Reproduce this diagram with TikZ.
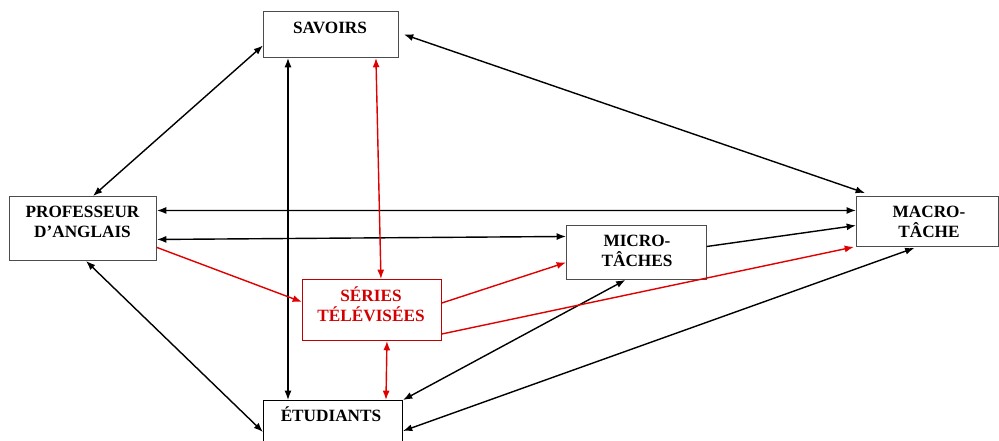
\documentclass[tikz,border=0pt]{standalone}
\usepackage{fontspec}
\setmainfont{Liberation Serif}
\usetikzlibrary{arrows.meta,calc,positioning}
\definecolor{serred}{RGB}{192,0,0}
\definecolor{sertext}{RGB}{210,0,0}
\definecolor{linkred}{RGB}{225,0,0}
\tikzset{
  box/.style    = {draw=black!70, line width=0.8pt, fill=white, anchor=north west,
                   inner sep=0pt},
  lbl/.style    = {font=\bfseries\fontsize{14.7}{17.5}\selectfont, align=center, inner sep=0pt},
  link/.style   = {{Latex[length=2.8mm,width=2.1mm]}-{Latex[length=2.8mm,width=2.1mm]},
                   line width=1.2pt},
  tolink/.style = {-{Latex[length=2.8mm,width=2.1mm]}, line width=1.2pt},
}

\begin{document}
\begin{tikzpicture}[x=0.3mm,y=-0.3mm]
  \useasboundingbox (0,0) rectangle (999,441);
  % boxes
  \node[box, minimum width=40.5mm, minimum height=13.8mm] (sav) at (263,11) {};
  \node[box, minimum width=44.1mm, minimum height=19.2mm] (prof) at (9,196) {};
  \node[box, draw=serred, minimum width=41.7mm, minimum height=18.3mm] (ser) at (302,279) {};
  \node[box, minimum width=42mm, minimum height=16.2mm] (mic) at (566,225) {};
  \node[box, minimum width=42.6mm, minimum height=15mm] (mac) at (856,196) {};
  \node[box, draw=black, minimum width=41.7mm, minimum height=13.5mm] (etu) at (263,400) {};
  % labels
  \node[lbl] (savT) at (330,28) {SAVOIRS};
  \node[lbl] (profT) at (82.5,222) {PROFESSEUR\\D’ANGLAIS};
  \node[lbl, text=sertext] (serT) at (371,304) {SÉRIES\\TÉLÉVISÉES};
  \node[lbl] (micT) at (637,251) {MICRO-\\TÂCHES};
  \node[lbl] (macT) at (929,222) {MACRO-\\TÂCHE};
  \node[lbl] (etuT) at (331,414) {ÉTUDIANTS};
  % black links
  \draw[link] ($(sav.west)+(0,11)$) -- ($(prof.north)+(10,0)$);
  \draw[link] ($(sav.east)+(5,0)$) -- ($(mac.north west)+(9,-3)$);
  \draw[link] ($(sav.south west)+(25,0)$) -- ($(etu.north west)+(25,0)$);
  \draw[link] ($(prof.east)+(0,-18)$) -- ($(mac.west)+(0,-11)$);
  \draw[link] ($(prof.east)+(0,11)$) -- ($(mic.west)+(0,-16)$);
  \draw[link] ($(prof.south)+(3,0)$) -- ($(etu.north west)+(0,32)$);
  \draw[tolink] ($(mic.east)+(0,-6)$) -- ($(mac.west)+(0,4)$);
  \draw[link] ($(mic.south)+(-11,0)$) -- (etu.north east);
  \draw[link] ($(mac.south)+(-13,1)$) -- ($(etu.north east)+(0,31)$);
  % red links
  \draw[link, linkred] ($(sav.south east)+(-23,0)$) -- ($(ser.north)+(9,0)$);
  \draw[tolink, linkred] ($(prof.east)+(0,19)$) -- ($(ser.west)+(0,-8)$);
  \draw[tolink, linkred] ($(ser.east)+(0,-7)$) -- ($(mic.west)+(0,10)$);
  \draw[tolink, linkred] ($(ser.east)+(0,24)$) -- ($(mac.south west)+(-2,0)$);
  \draw[link, linkred] ($(ser.south)+(15,0)$) -- ($(etu.north)+(53,0)$);
\end{tikzpicture}
\end{document}
